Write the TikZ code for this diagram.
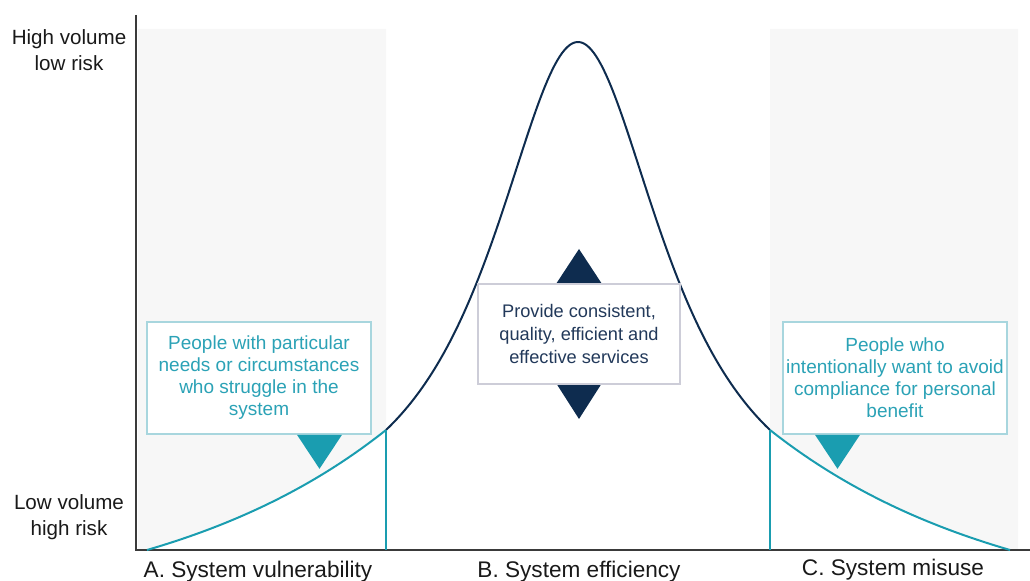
\documentclass[tikz,border=0pt]{standalone}
\usepackage{fontspec}
\setmainfont{Liberation Sans}
\usetikzlibrary{positioning}

\definecolor{tealc}{HTML}{1A9DB0}
\definecolor{tealtext}{HTML}{2BA2B6}
\definecolor{tealedge}{HTML}{A8D6DE}
\definecolor{navy}{HTML}{0E2C4F}
\definecolor{navytext}{HTML}{22395A}
\definecolor{zonegray}{HTML}{F7F7F7}
\definecolor{axisgray}{HTML}{3A3A3A}
\definecolor{boxedge}{HTML}{CDCDD8}

\begin{document}
\begin{tikzpicture}[
    x=0.5pt, y=-0.5pt,
    axislabel/.style={align=center, text=black!90, font=\fontsize{10.3}{13}\selectfont},
    zonelabel/.style={anchor=base, text=black!90, font=\fontsize{11.3}{13}\selectfont},
    tealbox/.style={rectangle, draw=tealedge, line width=0.8pt, fill=white, text=tealtext, align=center, minimum width=112pt, minimum height=56pt, inner sep=0pt, font=\fontsize{9.5}{11}\selectfont},
    midbox/.style={rectangle, draw=boxedge, line width=0.8pt, fill=white, text=navytext, align=center, minimum width=101pt, minimum height=50pt, inner sep=0pt, font=\fontsize{9.1}{11.7}\selectfont},
    pointer/.style={fill=tealc},
    axis/.style={draw=axisgray, line width=1pt},
    curve/.style={line width=1pt, line join=round},
    cut/.style={draw=tealc, line width=0.8pt}
]

\useasboundingbox (0,0) rectangle (1030,581);

% Shaded zones above the two tails
\fill[zonegray] (138,29) -- (386,29) -- (386,430)
    -- plot[domain=386:147, samples=40] (\x,{550-120*(exp((\x-147)/239)-1)/(exp(1)-1)})
    -- (138,550) -- cycle;
\fill[zonegray] (770,29) -- (1018,29) -- (1018,550) -- (1010,550)
    -- plot[domain=1010:770, samples=40] (\x,{550-120*(exp((1010-\x)/240)-1)/(exp(1)-1)})
    -- cycle;

% Axes
\coordinate (ytop) at (136,15);
\coordinate (origin) at (136,550);
\coordinate (xend) at (1030,550);
\draw[axis] (ytop) -- (origin) -- (xend);

% Distribution curve
\draw[curve, tealc] plot[domain=147:386, samples=50] (\x,{550-120*(exp((\x-147)/239)-1)/(exp(1)-1)});
\draw[curve, navy] plot[domain=386:770, samples=160] (\x,{550-508/(1+((\x-578)/106.77)^2)});
\draw[curve, tealc] plot[domain=770:1010, samples=50] (\x,{550-120*(exp((1010-\x)/240)-1)/(exp(1)-1)});

% Zone boundaries
\coordinate (lcut) at (386,430);
\coordinate (rcut) at (770,430);
\draw[cut] (lcut) -- (lcut |- origin);
\draw[cut] (rcut) -- (rcut |- origin);

% Axis labels
\node[axislabel] (hivol) at (69,50) {High volume\\low risk};
\node[axislabel] (lovol) at (69,517) {Low volume\\high risk};

% Zone labels
\node[zonelabel] (zoneA) at (258,578) {A. System vulnerability};
\node[zonelabel] (zoneB) at (579,578) {B. System efficiency};
\node[zonelabel] (zoneC) at (893,576) {C. System misuse};

% Middle - efficiency
\coordinate (mid) at (579,332);
\fill[navy] ([shift={(-23,-48)}]mid) -- ++(46,0) -- ++(-23,-35) -- cycle;
\fill[navy] ([shift={(-23,51)}]mid) -- ++(46,0) -- ++(-23,36) -- cycle;
\node[midbox] (eff) at ([yshift=-1pt]mid) {
    Provide consistent,\\
    quality, efficient and\\
    effective services
};

% Left - vulnerability
\node[tealbox] (vuln) at (259,378) {
    People with particular\\
    needs or circumstances\\
    who struggle in the\\
    system
};
\fill[pointer] ([xshift=19pt]vuln.south) -- ++(45,0) -- ++(-22.5,34) -- cycle;

% Right - misuse
\node[tealbox] (misuse) at (895,378) {
    People who\\
    intentionally want to avoid\\
    compliance for personal\\
    benefit
};
\fill[pointer] ([xshift=-40pt]misuse.south) -- ++(45,0) -- ++(-22.5,34) -- cycle;

\end{tikzpicture}
\end{document}
